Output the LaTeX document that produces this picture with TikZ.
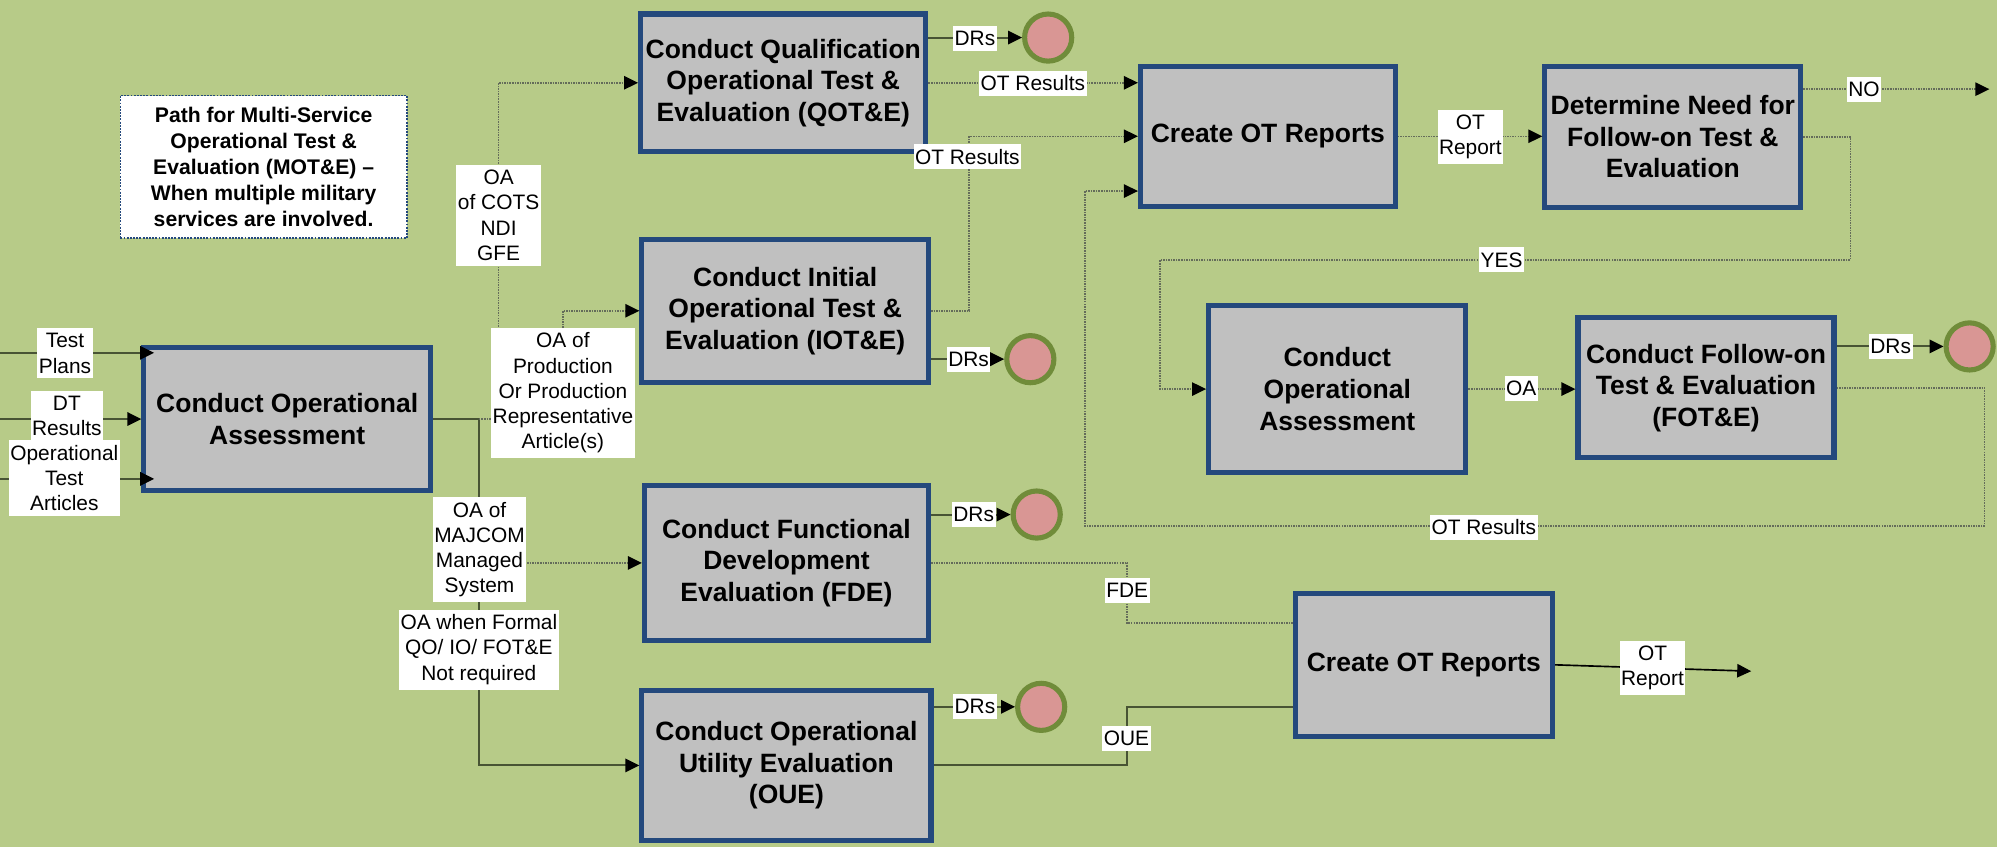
\documentclass[tikz,border=0pt]{standalone}
\usepackage{fontspec}
\setmainfont{Liberation Sans}
\usetikzlibrary{arrows.meta}
\definecolor{bgc}{RGB}{183,203,136}
\definecolor{boxfill}{RGB}{192,192,192}
\definecolor{boxline}{RGB}{36,73,125}
\definecolor{drfill}{RGB}{217,150,148}
\definecolor{drline}{RGB}{112,140,58}
\definecolor{solidc}{RGB}{72,84,52}
\definecolor{dotc}{RGB}{100,108,90}
\begin{document}
\begin{tikzpicture}[x=1pt,y=-1pt,
  proc/.style={draw=boxline, line width=4pt, fill=boxfill, align=center, inner sep=0pt,
    font=\fontsize{20.8}{24.8}\selectfont\bfseries},
  note/.style={draw=boxline, line width=1.2pt, dash pattern=on 1.5pt off 1pt, fill=white,
    align=center, inner sep=0pt, minimum width=225pt, minimum height=112pt,
    font=\fontsize{16.6}{20.3}\selectfont\bfseries},
  lab/.style={fill=white, align=center, inner xsep=1.2pt, inner ysep=4pt,
    font=\fontsize{16.4}{19.8}\selectfont},
  dr/.style={circle, draw=drline, line width=4pt, fill=drfill, minimum size=37pt, inner sep=0pt},
  dotln/.style={draw=dotc, line width=1.2pt, dash pattern=on 1.2pt off 0.8pt},
  solln/.style={draw=solidc, line width=1.6pt},
  blackln/.style={draw=black, line width=1.3pt},
  arr/.style={-{Triangle[length=11pt,width=10.5pt,color=black]}},
]
\useasboundingbox (0,0) rectangle (1568,665);
\fill[bgc] (0,0) rectangle (1568,665);

% process boxes
\node[proc,minimum width=225pt,minimum height=112pt] (coa) at (225.5,329) {Conduct Operational\\Assessment};
\node[proc,minimum width=224pt,minimum height=108pt] (qot) at (615,65) {Conduct Qualification\\Operational Test \&\\Evaluation (QOT\&E)};
\node[proc,minimum width=225pt,minimum height=112pt] (iot) at (616.5,244) {Conduct Initial\\Operational Test \&\\Evaluation (IOT\&E)};
\node[proc,minimum width=223pt,minimum height=122pt] (fde) at (617.5,442) {Conduct Functional\\Development\\Evaluation (FDE)};
\node[proc,minimum width=227pt,minimum height=118pt] (oue) at (617.5,601) {Conduct Operational\\Utility Evaluation\\(OUE)};
\node[proc,minimum width=200pt,minimum height=110pt] (cot1) at (995.5,107) {Create OT Reports};
\node[proc,minimum width=201pt,minimum height=111pt] (det) at (1313.5,107.5) {Determine Need for\\Follow-on Test \&\\Evaluation};
\node[proc,minimum width=202pt,minimum height=131pt] (coa2) at (1050,305.5) {Conduct\\Operational\\Assessment};
\node[proc,minimum width=201pt,minimum height=110pt] (fot) at (1339.5,304.5) {Conduct Follow-on\\Test \& Evaluation\\(FOT\&E)};
\node[proc,minimum width=202pt,minimum height=112pt] (cot2) at (1118,522) {Create OT Reports};

% DR circles
\node[dr] (c1) at (823,29.5) {};
\node[dr] (c2) at (809,282) {};
\node[dr] (c3) at (814,404) {};
\node[dr] (c4) at (817.5,555) {};
\node[dr] (c5) at (1546.5,272) {};

% note
\node[note] (note) at (207,131) {Path for Multi-Service\\Operational Test \&\\Evaluation (MOT\&E) --\\When multiple military\\services are involved.};

% free ends and junctions
\coordinate (tpin) at (0,277);
\coordinate (dtin) at (0,329);
\coordinate (otin) at (0,376);
\coordinate (jA) at (376,329);
\coordinate (jB) at (391.5,329);
\coordinate (jB2) at (391.5,65);
\coordinate (jC) at (442,329);
\coordinate (jC2) at (442,244);
\coordinate (jD) at (376,601);
\coordinate (jE) at (376,442);
\coordinate (jF) at (761,244);
\coordinate (jF2) at (761,107);
\coordinate (jG) at (885,442);
\coordinate (jG2) at (885,489);
\coordinate (jH) at (885,601);
\coordinate (jH2) at (885,555);
\coordinate (jI) at (1558,304.5);
\coordinate (jI2) at (1558,413);
\coordinate (jI3) at (852,413);
\coordinate (jI4) at (852,150);
\coordinate (jY) at (1453,107.5);
\coordinate (jY2) at (1453,204);
\coordinate (jY3) at (911,204);
\coordinate (jY4) at (911,305.5);
\coordinate (noout) at (1562,70);
\coordinate (rptout) at (1375,527);

% inputs
\draw[solln,arr] (tpin) -- ([xshift=10pt]tpin -| coa.west);
\draw[solln,arr] (dtin) -- (dtin -| coa.west);
\draw[solln,arr] (otin) -- ([xshift=10pt]otin -| coa.west);

% outputs of left assessment
\draw[solln,arr] (coa.east) -- (jA) -- (jD) -- (oue.west);
\draw[dotln,arr] (jA) -- (jB) -- (jB2) -- (qot.west);
\draw[dotln,arr] (jB) -- (jC) -- (jC2) -- (iot.west);
\draw[dotln,arr] (jE) -- (fde.west);

% QOT&E
\draw[solln,arr] (qot.east |- c1) -- (c1.west);
\draw[dotln,arr] (qot.east) -- (qot.east -| cot1.west);
% IOT&E
\draw[dotln,arr] (iot.east) -- (jF) -- (jF2) -- (cot1.west);
\draw[solln,arr] (iot.east |- c2) -- (c2.west);
% FDE
\draw[solln,arr] (fde.east |- c3) -- (c3.west);
\draw[dotln] (fde.east) -- (jG) -- (jG2) -- (jG2 -| cot2.west);
% OUE
\draw[solln,arr] (oue.east |- c4) -- (c4.west);
\draw[solln] (oue.east) -- (jH) -- (jH2) -- (jH2 -| cot2.west);
% bottom report out
\draw[blackln,arr] (cot2.east) -- (rptout);
% top report to decision
\draw[dotln,arr] (cot1.east) -- (cot1.east -| det.west);
\draw[dotln,arr] (det.east |- noout) -- (noout);
\draw[dotln,arr] (det.east) -- (jY) -- (jY2) -- (jY3) -- (jY4) -- (coa2.west);
\draw[dotln,arr] (coa2.east) -- (coa2.east -| fot.west);
\draw[solln,arr] (fot.east |- c5) -- (c5.west);
\draw[dotln,arr] (fot.east) -- (jI) -- (jI2) -- (jI3) -- (jI4) -- (jI4 -| cot1.west);

% labels
\node[lab] (lTP) at (51,277.5) {Test\\Plans};
\node[lab] (lDT) at (52.5,326.5) {DT\\Results};
\node[lab] (lOTA) at (50.5,375.5) {Operational\\Test\\Articles};
\node[lab] (lCOTS) at (391.5,169) {OA\\of COTS\\NDI\\GFE};
\node[lab] (lPROD) at (442,308.5) {OA of\\Production\\Or Production\\Representative\\Article(s)};
\node[lab] (lMAJ) at (376.5,431.5) {OA of\\MAJCOM\\Managed\\System};
\node[lab] (lFORM) at (376,510) {OA when Formal\\QO/ IO/ FOT\&E\\Not required};
\node[lab] (lDR1) at (765.5,30) {DRs};
\node[lab] (lOTR1) at (811,65.5) {OT Results};
\node[lab] (lOTR2) at (759.5,123) {OT Results};
\node[lab] (lDR2) at (760.5,282) {DRs};
\node[lab] (lDR3) at (764.5,404) {DRs};
\node[lab] (lDR4) at (765.5,555) {DRs};
\node[lab] (lFDE) at (885,463.5) {FDE};
\node[lab] (lOUE) at (884.5,579.5) {OUE};
\node[lab] (lRPT1) at (1154.5,107.5) {OT\\Report};
\node[lab] (lNO) at (1463.5,70) {NO};
\node[lab] (lYES) at (1179,204) {YES};
\node[lab] (lOA) at (1194.5,305) {OA};
\node[lab] (lDR5) at (1484.5,272) {DRs};
\node[lab] (lOTR3) at (1165,414) {OT Results};
\node[lab] (lRPT2) at (1297.5,524.5) {OT\\Report};
\end{tikzpicture}
\end{document}
